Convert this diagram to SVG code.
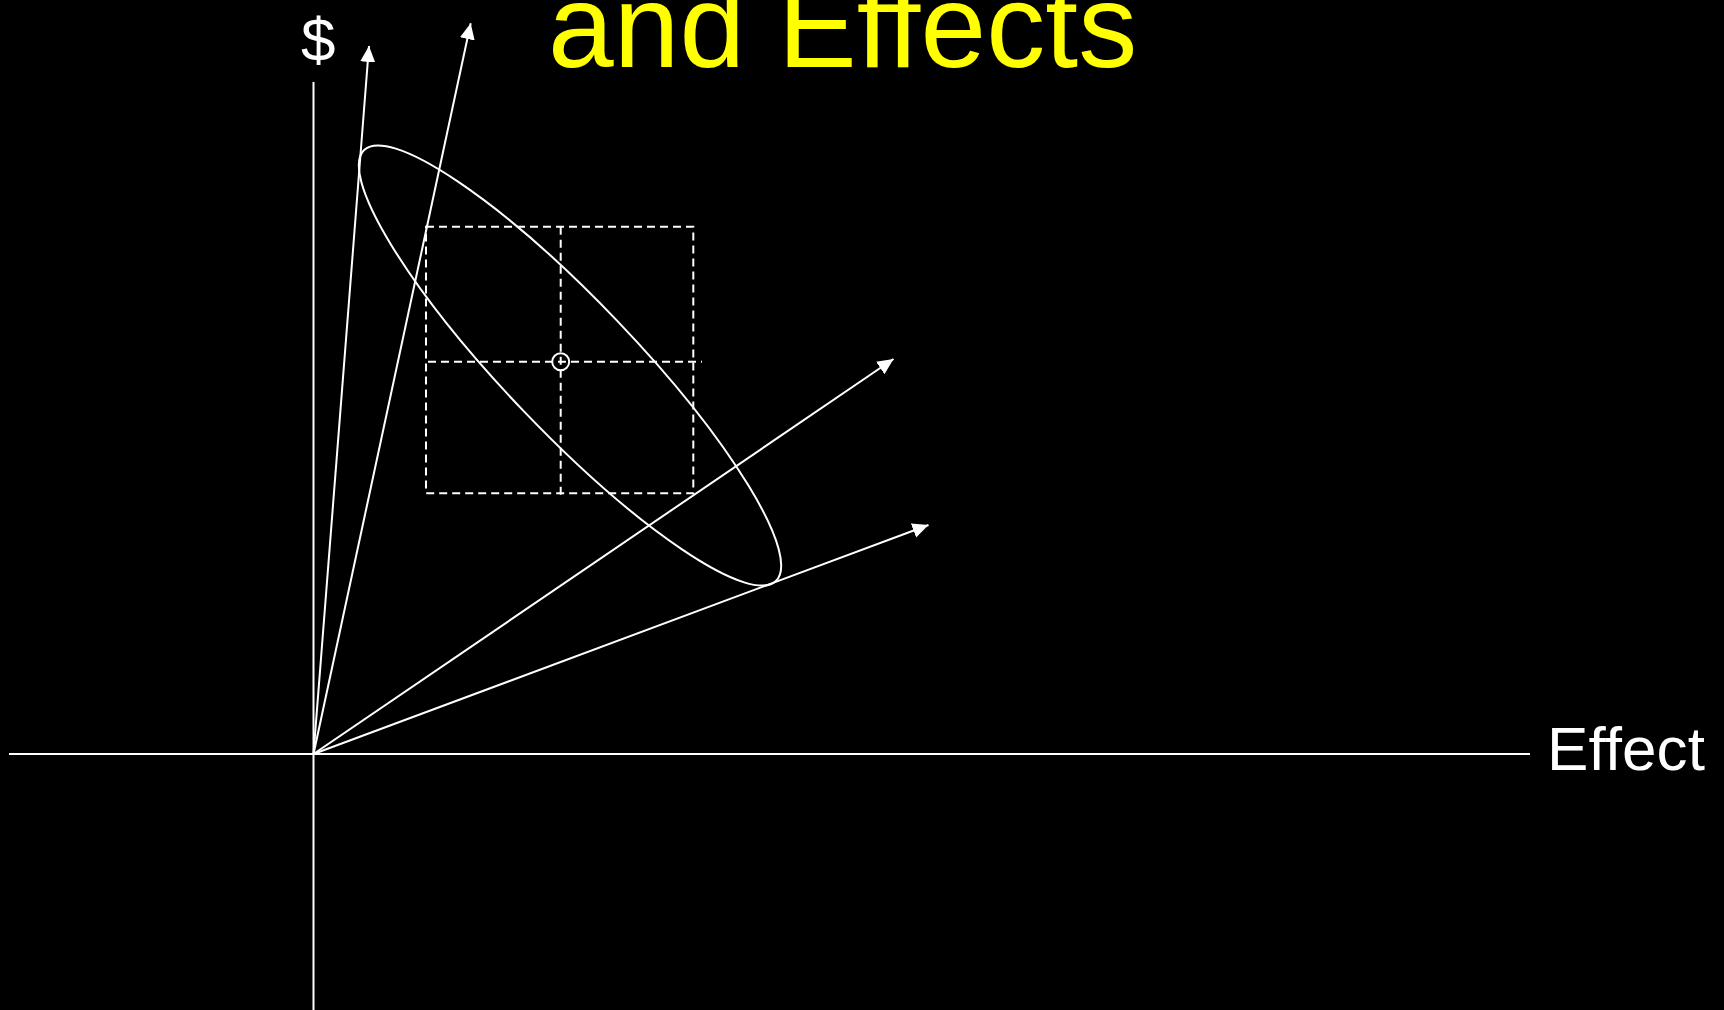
<svg xmlns="http://www.w3.org/2000/svg" width="1724" height="1010" viewBox="0 0 1724 1010">
<style>
.ln{stroke:#fff;stroke-width:2;fill:none}
.dash{stroke:#fff;stroke-width:2;fill:none;stroke-dasharray:8 5}
.lbl{font-family:"Liberation Sans",Arial,sans-serif;fill:#fff;font-variant-ligatures:none;letter-spacing:0.1px}
.title{font-family:"Liberation Sans",Arial,sans-serif;fill:#ffff00;font-variant-ligatures:none;letter-spacing:0.1px}
</style>
<defs>
<marker id="ah" markerUnits="userSpaceOnUse" markerWidth="18" markerHeight="16" refX="16" refY="7.5" orient="auto">
<path d="M0,0 L16,7.5 L0,15 Z" fill="#fff"/>
</marker>
</defs>
<rect width="1724" height="1010" fill="#000"/>
<text class="title" x="548" y="67" font-size="118">and Effects</text>
<g id="axes">
<line class="ln" x1="313.5" y1="82" x2="313.5" y2="1010"/>
<line class="ln" x1="9" y1="754" x2="1530" y2="754"/>
</g>
<g id="label-dollar"><text class="lbl" x="301" y="61" font-size="62">$</text></g>
<g id="label-effect"><text class="lbl" x="1547" y="770" font-size="62">Effect</text></g>
<g id="ellipse"><ellipse class="ln" cx="570" cy="365.5" rx="298" ry="65" transform="rotate(46.3 570 365.5)"/></g>
<g id="box">
<rect class="dash" x="426" y="226.7" width="267.3" height="266.6"/>
<line class="dash" x1="560.7" y1="226.7" x2="560.7" y2="498"/>
<line class="dash" x1="428" y1="361.7" x2="702" y2="361.7"/>
<circle class="ln" cx="560.7" cy="361.7" r="8.5"/>
</g>
<g id="connectors">
<line class="ln" x1="313.5" y1="754" x2="369" y2="46" marker-end="url(#ah)"/>
<line class="ln" x1="313.5" y1="754" x2="470.7" y2="23.3" marker-end="url(#ah)"/>
<line class="ln" x1="313.5" y1="754" x2="893.5" y2="359" marker-end="url(#ah)"/>
<line class="ln" x1="313.5" y1="754" x2="928.5" y2="525" marker-end="url(#ah)"/>
</g>
</svg>
